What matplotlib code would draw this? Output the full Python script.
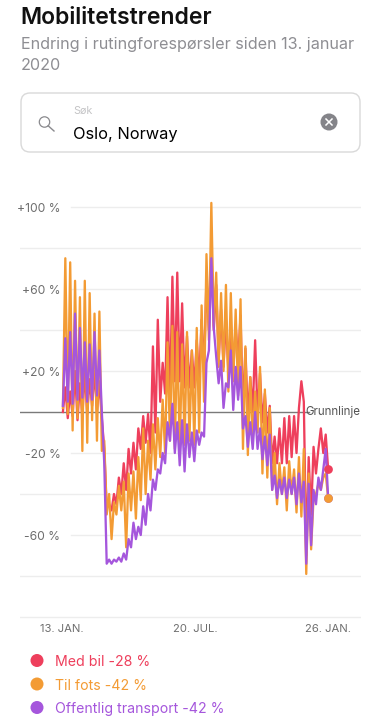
import matplotlib
matplotlib.use("Agg")
import matplotlib.pyplot as plt
from matplotlib.patches import FancyBboxPatch, Circle
import numpy as np

plt.rcParams['font.family'] = ['Inter', 'DejaVu Sans']

# half-week samples (alternating weekday / weekend), values in percent
car = [0,12,-3,10,-2,20,-4,14,-2,20,-1,16,3,20,0,15,-3,-18,-46,-45,-48,-40,-45,-32,-40,-25,-38,-18,-30,-15,
       -28,-8,-18,-2,-15,-1,-20,32,-10,45,5,24,9,56,5,66,15,68,15,53,12,37,12,30,12,35,15,45,20,65,
       40,80,40,62,25,50,22,45,20,40,20,42,25,47,0,31,-3,17,0,35,-2,19,-5,9,-10,3,-25,-12,-25,-8,
       -25,-3,-25,-2,-22,-2,-20,2,15,5,-70,-22,-50,-17,-30,-18,-8,-20,-11,-28]
walk = [2,75,-1,73,-9,64,-3,56,-19,64,-15,58,-4,48,-14,49,-19,-14,-50,-40,-62,-44,-50,-36,-48,-34,-66,-30,-48,-29,
        -52,-22,-43,-8,-40,-14,-33,-6,-28,-3,-22,6,-20,34,-14,42,-18,39,-20,33,-16,39,-14,30,-16,41,-10,52,5,77,
        35,102,42,68,22,58,20,62,10,58,15,50,8,55,-18,32,-21,17,-14,10,-10,22,-30,11,-32,2,-38,-20,-45,-25,
        -40,-27,-48,-24,-40,-28,-49,-22,-51,-18,-79,-30,-67,-42,-40,-35,-38,-32,-30,-42]
transit = [3,36,5,39,4,48,6,41,7,34,5,33,6,39,8,30,0,-25,-74,-72,-74,-72,-73,-71,-73,-69,-72,-62,-66,-54,
           -62,-56,-60,-46,-55,-40,-48,-33,-38,-28,-30,-20,-25,-5,-14,4,-20,-5,-26,-4,-29,-6,-22,-10,-24,-9,-16,-10,-12,24,
           30,75,41,27,14,25,2,14,12,30,1,22,6,22,-8,-2,-17,-5,-18,0,-18,-8,-23,-12,-26,-11,-38,-31,-42,-33,
           -40,-32,-42,-33,-40,-32,-45,-30,-44,-34,-74,-35,-65,-38,-45,-32,-38,-28,-18,-42]
sample_step_days = 3.5
sample_start_day = 2

grid_values = [100, 80, 60, 40, 20, -20, -40, -60, -80, -100]
labelled_values = [100, 60, 20, -20, -60]
y_labels = ['+100 %', '+60 %', '+20 %', '-20 %', '-60 %']
x_tick_days = [0, 192, 384]
x_tick_labels = ['13. JAN.', '20. JUL.', '26. JAN.']
series_names = ['Med bil -28 %', 'Til fots -42 %', 'Offentlig transport -42 %']
colors = ['#EE3F5C', '#F39B34', '#A556DC']

W, H = 381, 720
fig = plt.figure(figsize=(W/100, H/100), dpi=100)

# interface layer in pixel coordinates
ui = fig.add_axes([0, 0, 1, 1])
ui.set_xlim(0, W); ui.set_ylim(H, 0); ui.axis('off')
ui.text(20.5, 18.5, 'Mobilitetstrender', fontsize=16.5, fontweight='semibold', color='#111111', va='center')
ui.text(21, 44.5, 'Endring i rutingforespørsler siden 13. januar', fontsize=11.65, color='#8E8E93', va='center')
ui.text(21, 65.5, '2020', fontsize=11.65, color='#8E8E93', va='center')
ui.add_patch(FancyBboxPatch((21, 93), 339, 59, boxstyle='round,pad=0,rounding_size=9', fc='white', ec='#D9D9D9', lw=1))
ui.text(73, 110.5, 'Søk', fontsize=7.8, color='#C4C4C6', va='center')
ui.text(73, 134, 'Oslo, Norway', fontsize=11.8, color='#000000', va='center')
ui.add_patch(Circle((44.5, 122), 5.2, fc='none', ec='#8A8A8E', lw=0.9))
ui.plot([48.2, 54], [125.8, 131], color='#8A8A8E', lw=1.0)
ui.add_patch(Circle((329, 122), 8.5, fc='#848489', ec='none'))
ui.plot([326, 332], [119, 125], color='white', lw=1.1)
ui.plot([326, 332], [125, 119], color='white', lw=1.1)

# chart axes
ax = fig.add_axes([20/W, 1-625/H, 341/W, (625-190)/H])
ax.patch.set_alpha(0)
ax.set_xlim((20-61.5)/0.6953, (361-61.5)/0.6953)
ax.set_ylim((412-625)/2.05, (412-190)/2.05)
for s in ax.spines.values():
    s.set_visible(False)
days = sample_start_day + sample_step_days*np.arange(len(car))
left_pad = (71-20)/341
for v in grid_values:
    ax.axhline(v, xmin=left_pad if v in labelled_values else 0, xmax=1, color='#EDEDED', lw=1, zorder=1)
ax.plot([ax.get_xlim()[0], days[len(days)-9]], [0, 0], color='#7A7A7A', lw=1, zorder=2)
for vals, c, z in zip([car, walk, transit], colors, [3, 4, 5]):
    ax.plot(days, vals, color=c, lw=1.65, solid_joinstyle='round', zorder=z)
ax.plot(days[-1], car[-1], 'o', color=colors[0], ms=6.3, mew=0, zorder=6)
ax.plot(days[-1], transit[-1], 'o', color=colors[2], ms=6.3, mew=0, zorder=6)
ax.plot(days[-1], walk[-1], 'o', color=colors[1], ms=6.3, mew=0, zorder=7)
ax.set_yticks(labelled_values, y_labels)
ax.set_xticks(x_tick_days, x_tick_labels)
ax.tick_params(axis='both', length=0, labelcolor='#6E6E6E')
ax.tick_params(axis='y', labelsize=8.7, pad=0, direction='in')
ax.tick_params(axis='x', labelsize=8.1, pad=-1)
for t in ax.get_yticklabels():
    t.set_ha('right')
    t.set_x((60.5-20)/341)
ax.text((305.5-61.5)/0.6953, 0, 'Grunnlinje', fontsize=8.3, color='#555555', va='center', ha='left', zorder=8)

# legend
for name, c, yp in zip(series_names, colors, [660.5, 684, 707.5]):
    ui.add_patch(Circle((37, yp), 6.5, fc=c, ec='none'))
    ui.text(55, yp+1.5, name, fontsize=10.2, color=c, va='center')

fig.savefig('out.png', dpi=100)
